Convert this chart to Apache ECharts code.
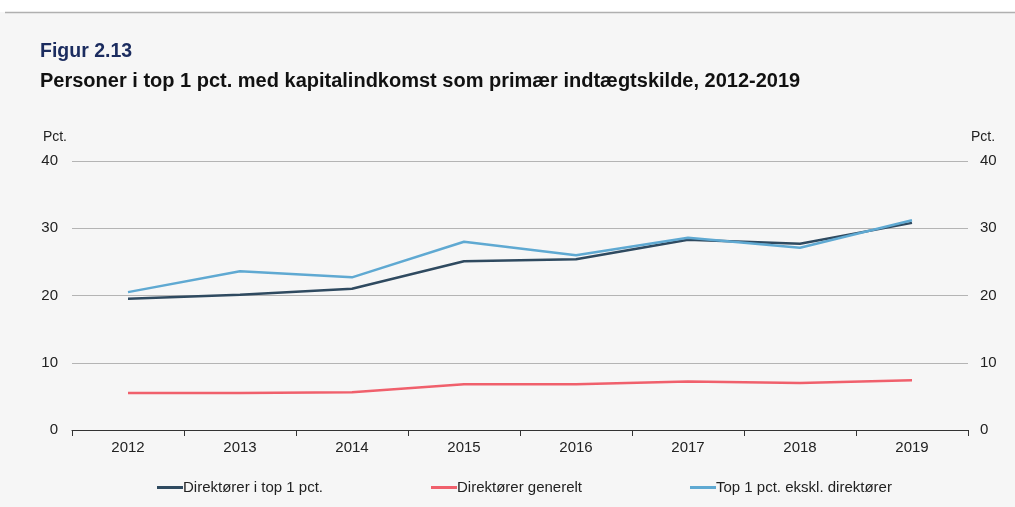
<!DOCTYPE html>
<html>
<head>
<meta charset="utf-8">
<script src="https://cdn.jsdelivr.net/npm/echarts@6/dist/echarts.min.js"></script>
<style>
  html, body { margin: 0; padding: 0; background: #f6f6f6; }
  #chart { width: 1015px; height: 507px; }
</style>
</head>
<body>
<div id="chart"></div>
<script>
const years = ["2012", "2013", "2014", "2015", "2016", "2017", "2018", "2019"];
const direktorerTop = [19.5, 20.1, 21.0, 25.1, 25.4, 28.3, 27.7, 30.8];
const direktorerGenerelt = [5.5, 5.5, 5.6, 6.8, 6.8, 7.2, 7.0, 7.4];
const topEkskl = [20.5, 23.6, 22.7, 28.0, 26.0, 28.6, 27.1, 31.2];
const yTicks = { min: 0, max: 40, interval: 10 };

const font = "Liberation Sans, Arial, sans-serif";
const colors = { dark: "#2f4a60", red: "#f0606c", blue: "#5fa9d2" };

const chart = echarts.init(document.getElementById("chart"));

function legendAt(left, name) {
  return {
    left,
    top: 475,
    data: [name],
    icon: "rect",
    itemWidth: 26,
    itemHeight: 3,
    itemGap: 0,
    textStyle: { fontFamily: font, fontSize: 15, color: "#222", padding: [0, 0, 0, -5] }
  };
}

function lineSeries(name, data, color) {
  return {
    name,
    type: "line",
    data,
    symbol: "none",
    lineStyle: { width: 2.5, color },
    itemStyle: { color }
  };
}

const yAxisBase = {
  type: "value",
  min: yTicks.min,
  max: yTicks.max,
  interval: yTicks.interval,
  name: "Pct.",
  nameLocation: "end",
  nameGap: 17,
  axisLine: { show: false },
  axisTick: { show: false },
  axisLabel: { fontFamily: font, fontSize: 15, color: "#222" },
  splitLine: { lineStyle: { color: "#b4b4b4", width: 1 } }
};

chart.setOption({
  backgroundColor: "#f6f6f6",
  textStyle: { fontFamily: font },
  graphic: [
    { type: "rect", shape: { x: 0, y: 0, width: 1015, height: 12 }, style: { fill: "#ffffff" } },
    { type: "line", shape: { x1: 5, y1: 12.5, x2: 1015, y2: 12.5 }, style: { stroke: "#b0b0b0", lineWidth: 1.5 } },
    { type: "text", left: 40, top: 42, style: { text: "Figur 2.13", font: "bold 19.5px " + font, fill: "#1b2c5f" } },
    { type: "text", left: 40, top: 71, style: { text: "Personer i top 1 pct. med kapitalindkomst som primær indtægtskilde, 2012-2019", font: "bold 20px " + font, fill: "#111" } }
  ],
  grid: { left: 72, right: 47, top: 161, bottom: 77 },
  legend: [
    legendAt(152, "Direktører i top 1 pct."),
    legendAt(426, "Direktører generelt"),
    legendAt(685, "Top 1 pct. ekskl. direktører")
  ],
  xAxis: {
    type: "category",
    data: years,
    boundaryGap: true,
    axisLine: { lineStyle: { color: "#333", width: 1 } },
    axisTick: { show: true, length: 6, lineStyle: { color: "#333" } },
    axisLabel: { fontFamily: font, fontSize: 15, color: "#222", margin: 10 }
  },
  yAxis: [
    Object.assign({}, yAxisBase, {
      position: "left",
      axisLabel: Object.assign({}, yAxisBase.axisLabel, { margin: 14 }),
      nameTextStyle: { fontFamily: font, fontSize: 14, color: "#222", align: "right", padding: [0, 5, 0, 0] }
    }),
    Object.assign({}, yAxisBase, {
      position: "right",
      splitLine: { show: false },
      axisLabel: Object.assign({}, yAxisBase.axisLabel, { margin: 12 }),
      nameTextStyle: { fontFamily: font, fontSize: 14, color: "#222", align: "left", padding: [0, 0, 0, 3] }
    })
  ],
  series: [
    lineSeries("Direktører i top 1 pct.", direktorerTop, colors.dark),
    lineSeries("Direktører generelt", direktorerGenerelt, colors.red),
    lineSeries("Top 1 pct. ekskl. direktører", topEkskl, colors.blue)
  ]
});
</script>
</body>
</html>
